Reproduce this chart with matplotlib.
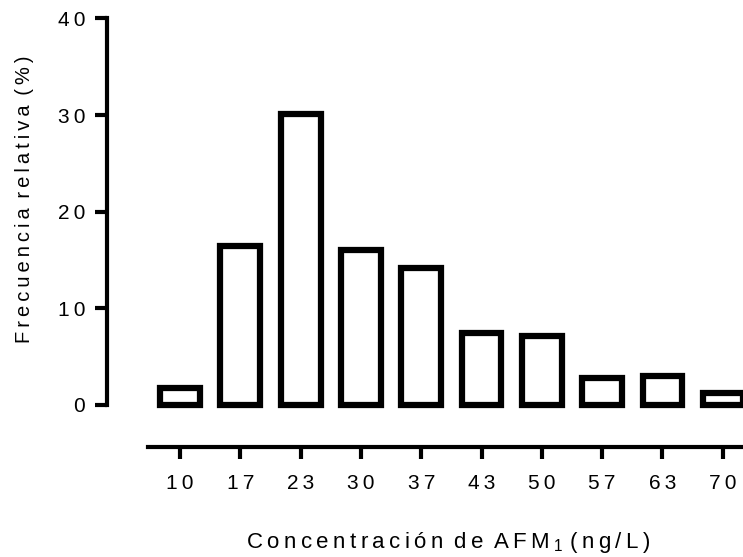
import matplotlib
matplotlib.use("Agg")
import matplotlib.pyplot as plt

plt.rcParams['font.family'] = ['Liberation Sans', 'DejaVu Sans']
plt.rcParams['mathtext.fontset'] = 'custom'
plt.rcParams['mathtext.rm'] = 'Liberation Sans'
plt.rcParams['mathtext.it'] = 'Liberation Sans'

# data
concentrations = ['10', '17', '23', '30', '37', '43', '50', '57', '63', '70']
rel_freq = [1.8, 16.5, 30.1, 16.0, 14.2, 7.4, 7.1, 2.8, 3.0, 1.2]
y_ticks = [0, 10, 20, 30, 40]

THIN = '\u2009'


def spaced(txt):
    # wide letter spacing like the original (Prism style)
    return (THIN + ' ').join(THIN.join(w) for w in txt.split(' '))


fig = plt.figure(figsize=(7.43, 5.57), dpi=100)
ax = fig.add_axes([0.1436, 0.2729, 1.0 - 0.1436, 0.967 - 0.2729])

pos = list(range(len(concentrations)))
ax.bar(pos, rel_freq, width=0.66, color='white', edgecolor='black',
       linewidth=4.5, clip_on=False, zorder=3)

ax.set_xlim(-1.215, 9.335)
ax.set_ylim(0, 40)

for s in ['top', 'right']:
    ax.spines[s].set_visible(False)
ax.spines['left'].set_linewidth(3)
ax.spines['left'].set_bounds(0, 40)
ax.spines['bottom'].set_linewidth(3)
ax.spines['bottom'].set_position(('outward', 30))
ax.spines['bottom'].set_bounds(-0.536, 9.335)

ax.set_yticks(y_ticks)
ax.set_yticklabels([spaced(str(t)) for t in y_ticks])
ax.set_xticks(pos)
ax.set_xticklabels([spaced(c) for c in concentrations])
ax.tick_params(axis='both', direction='out', length=8.6, width=3,
               labelsize=15, color='black')
ax.tick_params(axis='y', pad=7)
ax.tick_params(axis='x', pad=11)
ax.patch.set_alpha(0)

xlab = spaced('Concentración de AFM') + THIN + '$_{1}$ ' + spaced('(ng/L)')
fig.text(246 / 743, 1 - 548 / 557, xlab, fontsize=16, ha='left', va='baseline')
fig.text(25 / 743, 1 - 199.5 / 557, spaced('Frecuencia relativa (%)'),
         fontsize=14.5, rotation=90, ha='center', va='center')

plt.savefig('out.png', dpi=100)
